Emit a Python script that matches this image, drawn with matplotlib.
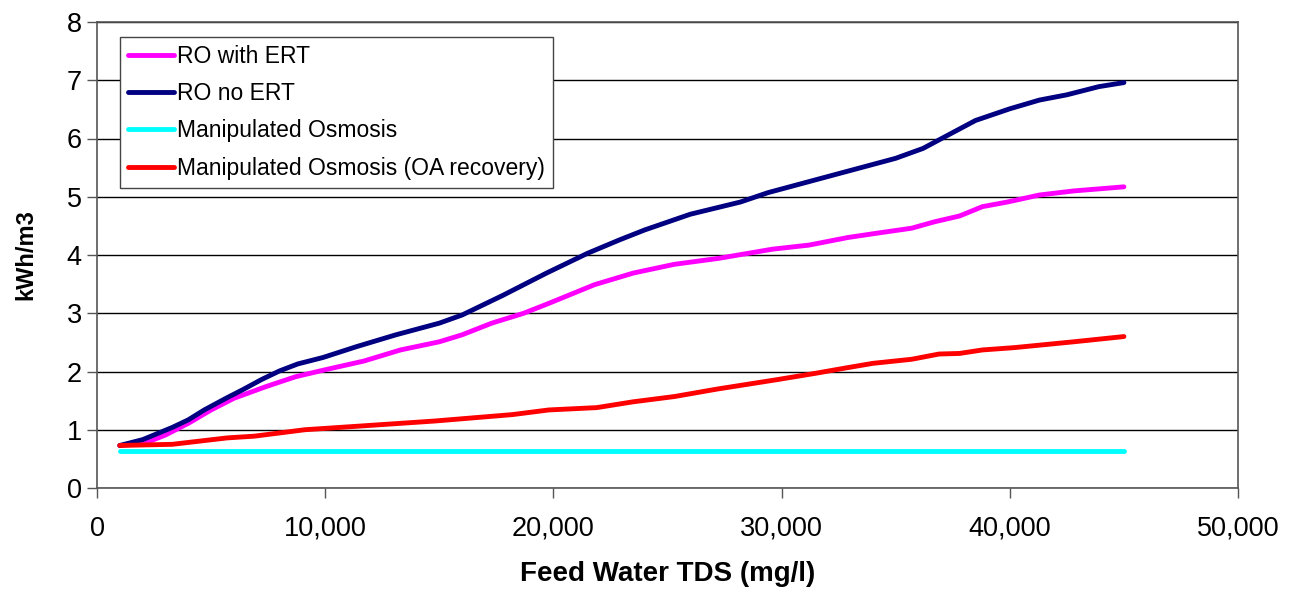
import matplotlib
matplotlib.use('Agg')
import matplotlib.pyplot as plt
from matplotlib.ticker import FuncFormatter

plt.rcParams['font.family'] = ['Liberation Sans', 'DejaVu Sans']

# feed water TDS (mg/l) and energy (kWh/m3)
tds_ro_no = [1000, 2000, 3300, 4000, 4700, 5700, 6400, 7200, 8000, 8800, 9900, 11400,
             13100, 15000, 16000, 17800, 19700, 21500, 22900, 24000, 26000, 28200,
             29400, 31200, 33100, 35000, 36200, 37300, 38500, 40000, 41300, 42500,
             43900, 45000]
ro_no_ert = [0.73, 0.83, 1.04, 1.17, 1.34, 1.55, 1.69, 1.86, 2.01, 2.13, 2.24, 2.43,
             2.63, 2.83, 2.97, 3.31, 3.69, 4.03, 4.26, 4.43, 4.70, 4.91, 5.07, 5.26,
             5.46, 5.66, 5.83, 6.06, 6.31, 6.51, 6.66, 6.75, 6.89, 6.96]

tds_ro_ert = [1000, 2100, 3000, 4000, 5000, 6000, 7400, 8700, 10000, 11700, 13300, 15000,
              16000, 17300, 18700, 19800, 21800, 23500, 25300, 27200, 29600, 31200,
              32900, 34100, 35700, 36700, 37800, 38800, 39900, 41300, 42800, 45000]
ro_with_ert = [0.73, 0.77, 0.91, 1.11, 1.34, 1.54, 1.74, 1.91, 2.03, 2.18, 2.37, 2.51,
               2.63, 2.83, 3.00, 3.17, 3.49, 3.69, 3.84, 3.94, 4.10, 4.17, 4.30, 4.37,
               4.46, 4.57, 4.67, 4.83, 4.91, 5.03, 5.10, 5.17]

tds_mo = [1000, 45000]
mo = [0.63, 0.63]

tds_mo_oa = [1000, 3300, 5700, 6900, 9100, 11400, 14800, 18200, 19800, 21900, 23500,
             25300, 27200, 29800, 31500, 32800, 34000, 35700, 36900, 37800, 38800,
             40200, 42800, 45000]
mo_oa = [0.73, 0.75, 0.86, 0.89, 1.00, 1.06, 1.15, 1.26, 1.34, 1.38, 1.48, 1.57,
         1.70, 1.86, 1.97, 2.06, 2.14, 2.21, 2.30, 2.31, 2.37, 2.41, 2.51, 2.60]

fig = plt.figure(figsize=(12.94, 5.95), dpi=100)
ax = fig.add_axes([97 / 1294, 1 - 488 / 595, (1238 - 97) / 1294, (488 - 22) / 595])

lw = 3.5
ax.plot(tds_ro_ert, ro_with_ert, color='#FF00FF', lw=lw, label='RO with ERT', solid_capstyle='round')
ax.plot(tds_ro_no, ro_no_ert, color='#000080', lw=lw, label='RO no ERT', solid_capstyle='round')
ax.plot(tds_mo, mo, color='#00FFFF', lw=lw, label='Manipulated Osmosis', solid_capstyle='round')
ax.plot(tds_mo_oa, mo_oa, color='#FF0000', lw=lw, label='Manipulated Osmosis (OA recovery)',
        solid_capstyle='round')

ax.set_xlim(0, 50000)
ax.set_ylim(0, 8)
ax.set_xticks(range(0, 50001, 10000))
ax.set_yticks(range(0, 9))
ax.xaxis.set_major_formatter(FuncFormatter(lambda v, p: f'{int(v):,}'))
ax.yaxis.grid(True, color='black', lw=1)
ax.set_axisbelow(True)
for s in ax.spines.values():
    s.set_color('#555555')
    s.set_linewidth(1.2)
ax.tick_params(axis='both', direction='out', length=7, width=1, color='#555555',
               labelsize=19.5, pad=4)
ax.tick_params(axis='x', pad=13)

ax.set_xlabel('Feed Water TDS (mg/l)', fontsize=20, fontweight='bold', labelpad=14)
ax.set_ylabel('kWh/m3', fontsize=17, fontweight='bold', labelpad=21)

leg = ax.legend(loc='upper left', bbox_to_anchor=(120 / 1294, 1 - 37 / 595),
                bbox_transform=fig.transFigure, borderaxespad=0, fontsize=16.5,
                fancybox=False, framealpha=1, edgecolor='#444444',
                handlelength=2.0, handletextpad=0.12, labelspacing=0.62,
                borderpad=0.35)
leg.get_frame().set_linewidth(1)

fig.savefig('out.png', dpi=100)
